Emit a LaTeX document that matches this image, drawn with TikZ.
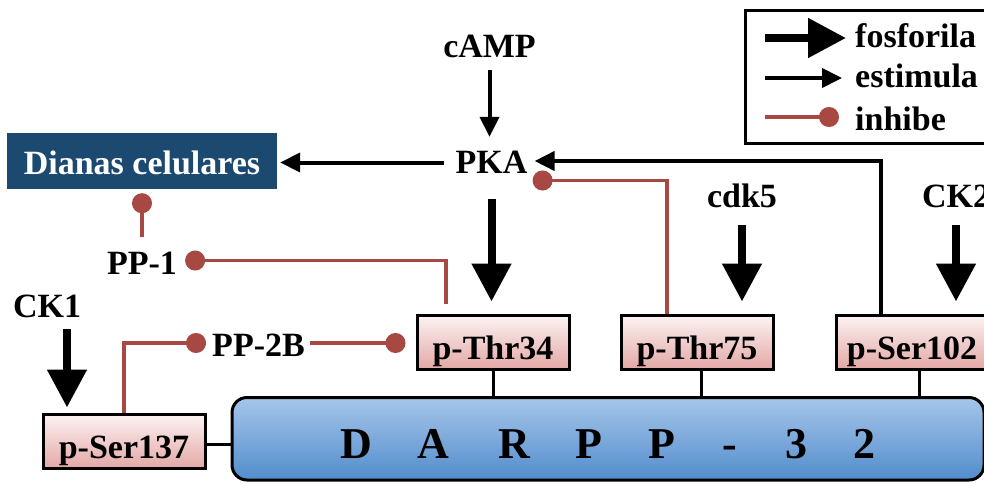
\documentclass[tikz,border=0pt]{standalone}
\usepackage{fontspec}
\setmainfont{Liberation Serif}
\usetikzlibrary{arrows.meta,calc}

\definecolor{dianasblue}{RGB}{27,73,111}
\definecolor{inhred}{RGB}{168,72,66}
\definecolor{pinktop}{RGB}{252,243,243}
\definecolor{pinkbot}{RGB}{227,168,166}
\definecolor{darpptop}{RGB}{166,198,234}
\definecolor{darppbot}{RGB}{82,140,204}

\begin{document}
\begin{tikzpicture}[x=1pt,y=-1pt,
  every node/.style={font=\fontsize{34pt}{36pt}\selectfont\bfseries},
  lbl/.style={inner sep=0pt, text height=22pt, text depth=0pt},
  psite/.style={draw, line width=3pt, top color=pinktop, bottom color=pinkbot,
    minimum width=152pt, minimum height=54pt, inner sep=0pt,
    text height=34pt, text depth=0pt},
  stim/.style={line width=4pt, -{Triangle[width=19pt,length=20pt]}},
  phos/.style={line width=8pt, -{Triangle[width=38pt,length=38pt]}},
  inhib/.style={inhred, line width=3.5pt, -{Circle[length=20pt]}},
  link/.style={line width=3pt},
]
\clip (0,0) rectangle (984,482);

% --- labels ---
\node[lbl] (camp) at (489.5,46) {cAMP};
\node[lbl] (pka)  at (491.5,162.5) {PKA};
\node[lbl] (cdk5) at (742,196.5) {cdk5};
\node[lbl] (ck2)  at (956,196.5) {CK2};
\node[lbl] (ck1)  at (47,306) {CK1};
\node[lbl] (pp1)  at (142,263.5) {PP-1};
\node[lbl] (pp2b) at (258.5,345) {PP-2B};

\node[fill=dianasblue, text=white, minimum width=270pt, minimum height=56pt,
      inner sep=0pt, text height=26pt, text depth=0pt] (dianas) at (142,161) {Dianas celulares};

% --- phosphorylation sites ---
\node[psite] (thr34)  at (493,342) {p-Thr34};
\node[psite] (thr75)  at (697,342) {p-Thr75};
\node[psite] (ser102) at (912,342) {p-Ser102};
\node[psite, minimum width=162pt] (ser137) at (124,441) {p-Ser137};

% --- DARPP-32 protein ---
\node[draw, line width=3pt, rounded corners=15pt, top color=darpptop, bottom color=darppbot,
      minimum width=752pt, minimum height=82.5pt, inner sep=0pt] (darpp) at (608,438.75) {};
\foreach \ch/\xx [count=\i] in {D/356, A/433, R/514, P/589, P/662, -/730, 3/796, 2/864}
  \node[font=\fontsize{44pt}{44pt}\selectfont\bfseries, anchor=base, inner sep=0pt] (dl\i) at (\xx,458) {\ch};

% --- links from sites to the protein ---
\draw[link] (thr34.south) -- (thr34.south |- darpp.north);
\draw[link] ([xshift=4pt]thr75.south) -- ([xshift=4pt]thr75.south |- darpp.north);
\draw[link] ([xshift=7pt]ser102.south) -- ([xshift=7pt]ser102.south |- darpp.north);
\draw[link] ([yshift=-3pt]ser137.east) -- ([yshift=-3pt]ser137.east -| darpp.west);

% --- stimulation ---
\draw[stim, shorten <=13pt, shorten >=14.5pt] (camp.south) -- (camp.south |- pka.north);
\draw[stim, shorten <=11pt, shorten >=3pt] (pka.west) -- (pka.west -| dianas.east);
\draw[stim, shorten >=7pt] ([xshift=-31pt]ser102.north) |- ([yshift=1.5pt]pka.east);

% --- phosphorylation ---
\draw[phos, shorten <=25pt, shorten >=12pt] (pka.south) -- (pka.south |- thr34.north);
\draw[phos, shorten <=17pt, shorten >=12pt] (cdk5.south) -- (cdk5.south |- thr75.north);
\draw[phos, shorten <=17pt, shorten >=12pt] (ck2.south) -- (ck2.south |- ser102.north);
\draw[phos, shorten <=12pt, shorten >=5pt] ([xshift=20pt]ck1.south) -- ([xshift=20pt]ck1.south |- ser137.north);

% --- inhibition ---
\draw[inhib, shorten >=5pt] ([xshift=-30pt]thr75.north) |- ([yshift=-18pt]pka.east);
\draw[inhib, shorten <=15pt, shorten >=4pt] (pp1.north) -- (pp1.north |- dianas.south);
\draw[inhib, shorten <=10pt, shorten >=8pt] ([xshift=-47pt]thr34.north) |- ([yshift=3pt]pp1.east);
\draw[inhib, shorten >=6pt] (ser137.north) |- ([yshift=2pt]pp2b.west);
\draw[inhib, shorten <=5pt, shorten >=10pt] ([yshift=2pt]pp2b.east) -- ([yshift=2pt]pp2b.east -| thr34.west);

% --- legend ---
\draw[line width=3pt] (745,10) rectangle (992,143);
\node[lbl, anchor=base west] (lgfos) at (855,47) {fosforila};
\node[lbl, anchor=base west] (lgest) at (855,87) {estimula};
\node[lbl, anchor=base west] (lginh) at (855,130) {inhibe};
\coordinate (lf1) at (765,38);  \coordinate (lf2) at (846,38);
\coordinate (ls1) at (765,78);  \coordinate (ls2) at (842,78);
\coordinate (li1) at (765,117); \coordinate (li2) at (839,117);
\draw[phos] (lf1) -- (lf2);
\draw[stim] (ls1) -- (ls2);
\draw[inhib] (li1) -- (li2);
\end{tikzpicture}
\end{document}
